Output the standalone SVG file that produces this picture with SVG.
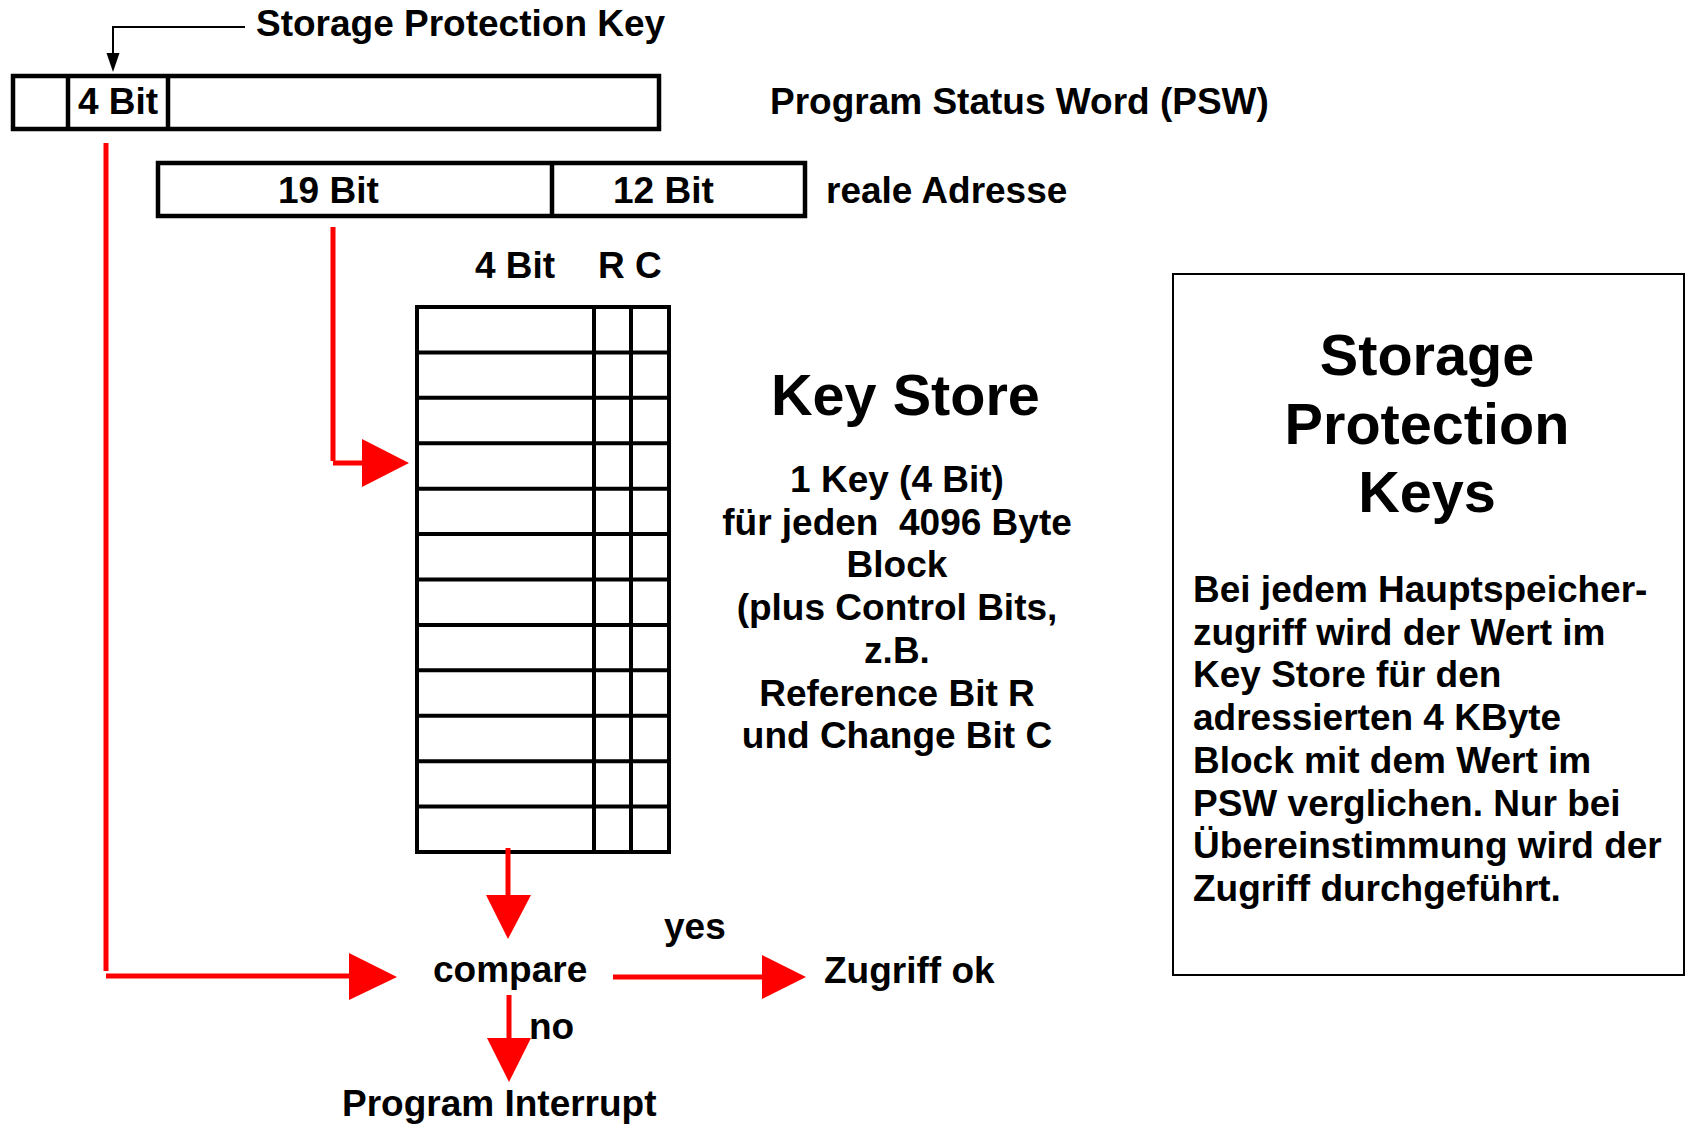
<svg xmlns="http://www.w3.org/2000/svg" width="1686" height="1128" viewBox="0 0 1686 1128">
<style>
text{font-family:"Liberation Sans",Arial,Helvetica,sans-serif;font-weight:bold;font-size:37px;fill:#000}
.big{font-size:57.6px}
.c{text-anchor:middle}
.box{fill:none;stroke:#000;stroke-width:4.5}
.grid{fill:none;stroke:#000;stroke-width:4}
.red{fill:none;stroke:#ff0000;stroke-width:5}
.head{fill:#ff0000;stroke:none}
.blk{fill:none;stroke:#000;stroke-width:2}
</style>
<rect width="1686" height="1128" fill="#fff"/>
<g id="psw">
<rect class="box" x="13" y="76" width="646" height="53"/>
<line class="box" x1="68" y1="76" x2="68" y2="129"/>
<line class="box" x1="168" y1="76" x2="168" y2="129"/>
<text class="c" x="118" y="114">4 Bit</text>
<text x="770" y="114">Program Status Word (PSW)</text>
</g>
<g id="spk-label">
<text x="256" y="36">Storage Protection Key</text>
</g>
<g id="real-address">
<rect class="box" x="158" y="163" width="647" height="53"/>
<line class="box" x1="552" y1="163" x2="552" y2="216"/>
<text x="278" y="203">19 Bit</text>
<text x="613" y="203">12 Bit</text>
<text x="826" y="203">reale Adresse</text>
</g>
<g id="key-store">
<text x="475" y="278">4 Bit</text>
<text x="598" y="278">R C</text>
<rect class="grid" x="417" y="307" width="252" height="545"/>
<path class="grid" d="M594,307V852M631,307V852M417,352.4H669M417,397.8H669M417,443.3H669M417,488.7H669M417,534.1H669M417,579.5H669M417,624.9H669M417,670.3H669M417,715.8H669M417,761.2H669M417,806.6H669"/>
</g>
<g id="key-store-desc">
<text class="big" x="771" y="415">Key Store</text>
<text class="c" x="897" y="492">1 Key (4 Bit)</text>
<text class="c" x="897" y="534.7" xml:space="preserve">für jeden  4096 Byte</text>
<text class="c" x="897" y="577.4">Block</text>
<text class="c" x="897" y="620.1">(plus Control Bits,</text>
<text class="c" x="897" y="662.8">z.B.</text>
<text class="c" x="897" y="705.5">Reference Bit R</text>
<text class="c" x="897" y="748.2">und Change Bit C</text>
</g>
<g id="compare">
<text x="433" y="982">compare</text>
</g>
<g id="zugriff-ok">
<text x="824" y="983">Zugriff ok</text>
</g>
<g id="program-interrupt">
<text x="342" y="1116">Program Interrupt</text>
</g>
<g id="info-box">
<rect x="1173" y="274" width="511" height="701" fill="none" stroke="#000" stroke-width="2"/>
<text class="big c" x="1427" y="375">Storage</text>
<text class="big c" x="1427" y="444">Protection</text>
<text class="big c" x="1427" y="512">Keys</text>
<text x="1193" y="602">Bei jedem Hauptspeicher-</text>
<text x="1193" y="644.7">zugriff wird der Wert im</text>
<text x="1193" y="687.4">Key Store für den</text>
<text x="1193" y="730.1">adressierten 4 KByte</text>
<text x="1193" y="772.8">Block mit dem Wert im</text>
<text x="1193" y="815.5">PSW verglichen. Nur bei</text>
<text x="1193" y="858.2">Übereinstimmung wird der</text>
<text x="1193" y="900.9">Zugriff durchgeführt.</text>
</g>
<g id="connectors">
<path class="blk" d="M245,27H113V56"/>
<polygon fill="#000" points="106.5,53 113,72 119.5,53"/>
<path class="red" d="M106,143V971M106,976H352"/>
<polygon class="head" points="349,953 397,977 349,1000"/>
<path class="red" d="M333,227V461M333,463H365"/>
<polygon class="head" points="362,439 409,463 362,487"/>
<path class="red" d="M508,848V898"/>
<polygon class="head" points="486,895 508,939 531,895"/>
<path class="red" d="M509,995V1041"/>
<polygon class="head" points="487,1038 509,1082 531,1038"/>
<path class="red" d="M613,977H765"/>
<polygon class="head" points="762,955 806,977 762,999"/>
<text x="664" y="939">yes</text>
<text x="529" y="1039">no</text>
</g>
</svg>
